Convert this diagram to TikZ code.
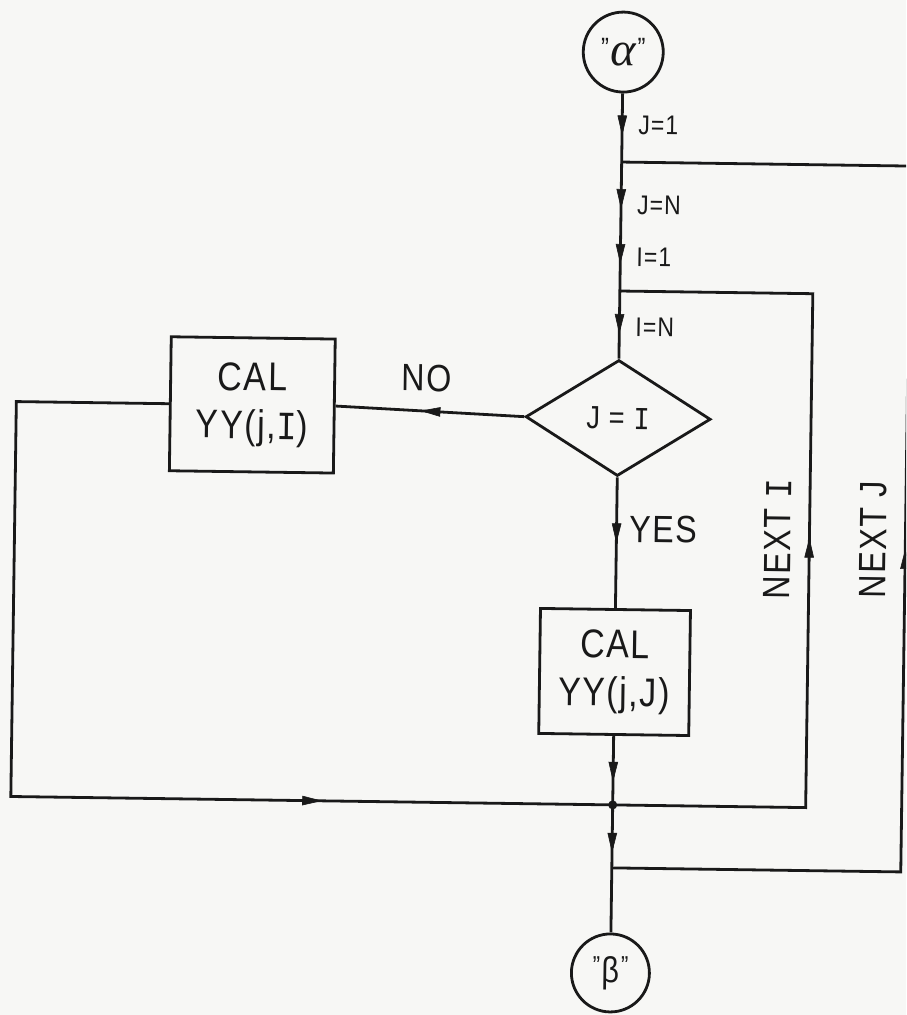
\documentclass[tikz,border=0pt]{standalone}
\usepackage{fontspec}
\setmainfont{Liberation Sans}[FakeStretch=0.85,LetterSpace=4]
\newfontfamily\serI{Liberation Mono}[FakeStretch=0.85]
\newfontfamily\grk{Liberation Serif}
\usetikzlibrary{shapes.geometric,arrows.meta,decorations.markings}
\definecolor{ink}{RGB}{25,25,25}
\definecolor{paper}{RGB}{247,247,245}
\newcommand{\II}{{\serI I}}
\tikzset{
  flow/.style={draw=ink, line width=2.8pt, line join=miter},
  tipat/.style={postaction={decorate,decoration={markings,
      mark=at position #1 with {\arrow[ink]{Triangle[length=20pt,width=9.5pt,line width=0.6pt]}}}}},
  circ/.style={draw=ink, line width=2.8pt, circle, minimum size=80pt, inner sep=0pt, text=ink},
  boxst/.style={draw=ink, line width=2.8pt, rectangle, inner sep=0pt, align=center, text=ink,
      font=\fontsize{40}{48}\selectfont},
  decst/.style={draw=ink, line width=2.8pt, diamond, minimum width=185pt, minimum height=116pt,
      inner sep=0pt, text=ink, font=\fontsize{32}{32}\selectfont},
  lab/.style={font=\fontsize{27}{27}\selectfont, inner sep=0pt, text=ink},
  big/.style={font=\fontsize{38}{38}\selectfont, inner sep=0pt, text=ink},
}
\begin{document}
\begin{tikzpicture}[x=1pt,y=-1pt]
\useasboundingbox (0,0) rectangle (906,1015);
\fill[paper] (0,0) rectangle (906,1015);
\clip (0,0) rectangle (906,1015);
\begin{scope}[rotate around={-0.8:(617,500)}, transform shape]
  % nodes
  \node[circ] (alpha) at (617,52)
    {\raisebox{8pt}{\fontsize{28}{28}\selectfont"}\,{\grk\itshape\fontsize{48}{48}\selectfont α}\,\raisebox{8pt}{\fontsize{28}{28}\selectfont"}};
  \coordinate (c1) at (617,162);
  \coordinate (c2) at (617,291);
  \node[decst] (dia) at (617,418) {J = \II};
  \node[boxst, minimum width=164pt, minimum height=134pt] (calI) at (251,410) {CAL\\YY(j,\II)};
  \node[boxst, minimum width=150pt, minimum height=125pt] (calJ) at (617,672) {CAL\\YY(j,J)};
  \coordinate (j) at (617,805);
  \coordinate (c3) at (617,868);
  \node[circ, minimum size=78pt] (beta) at (617,973)
    {\raisebox{8pt}{\fontsize{26}{26}\selectfont"}\,{\fontsize{36}{36}\selectfont β}\,\raisebox{8pt}{\fontsize{26}{26}\selectfont"}};
  \coordinate (lt) at (15,410);
  \coordinate (lb) at (15,805);
  \coordinate (rib) at (810,805);
  \coordinate (rit) at (810,291);
  \coordinate (rob) at (906,868);
  \coordinate (rot) at (906,162);

  % connectors
  \draw[flow, tipat=42pt] (alpha) -- (c1);
  \draw[flow, tipat=47pt, tipat=102pt] (c1) -- (c2);
  \draw[flow, tipat=43pt] (c2) -- (dia.north);
  \draw[flow, tipat=104pt] (dia.west) -- (calI.east);
  \draw[flow, tipat=859pt] (calI.west) -- (lt) -- (lb) -- (j);
  \draw[flow, tipat=66pt] (dia.south) -- (calJ.north);
  \draw[flow, tipat=46pt] (calJ.south) -- (j);
  \draw[flow, tipat=48pt] (j) -- (beta.north);
  \draw[flow, tipat=463pt] (j) -- (rib) -- (rit) -- (c2);
  \draw[flow, tipat=612pt] (c3) -- (rob) -- (rot) -- (c1);
  \fill[ink] (j) circle (4.5pt);

  % labels
  \node[lab, anchor=base west] (l1) at (633,134) {J=1};
  \node[lab, anchor=base west] (l2) at (633,214) {J=N};
  \node[lab, anchor=base west] (l3) at (633,266) {I=1};
  \node[lab, anchor=base west] (l4) at (633,336) {I=N};
  \node[big, anchor=base] (no) at (425,394) {NO};
  \node[big, anchor=base] (yes) at (664,542) {YES};
  \node[big, rotate=90] (ni) at (778,537) {NEXT \II};
  \node[big, rotate=90] (nj) at (874,536) {NEXT J};
\end{scope}
\end{tikzpicture}
\end{document}
